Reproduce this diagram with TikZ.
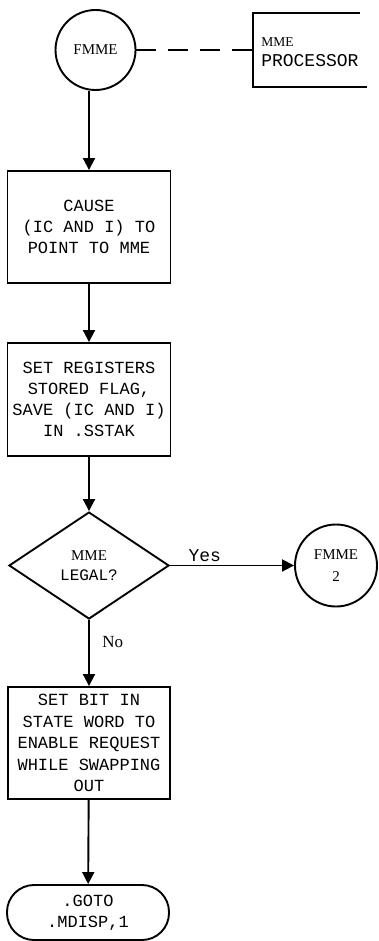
\documentclass[tikz,border=0pt]{standalone}
\usepackage{fontspec}
\setmainfont{Liberation Serif}
\setmonofont{Liberation Mono}
\newfontfamily\circfont[Scale=1.5]{Liberation Serif}
\newfontfamily\notefont[Scale=1.35]{Liberation Serif}
\newfontfamily\nofont[Scale=1.7]{Liberation Serif}
\usetikzlibrary{arrows.meta,shapes.geometric}

\begin{document}
\begin{tikzpicture}[x=1pt,y=-1pt,line width=1.9pt,
    box/.style={draw, rectangle, minimum width=163pt, minimum height=112pt, inner sep=0pt,
      align=center, font=\ttfamily\fontsize{17}{21}\selectfont},
    conn/.style={draw, circle, inner sep=0pt, align=center, font=\circfont\fontsize{10}{22}\selectfont},
    flow/.style={-{Triangle[width=12pt,length=12pt]}}]
    \useasboundingbox (0,0) rectangle (379,941);

    % Entry point and note
    \node[conn, minimum size=80pt] (fmme) at (95.5,50) {FMME};
    \draw (360,13) -- (253,13) -- (253,87) -- (367,87);
    \node[anchor=west, align=left, font=\ttfamily\fontsize{18}{20}\selectfont] (proc) at (257,52.5)
        {\notefont\fontsize{10}{20}\selectfont MME\\\ttfamily\fontsize{18}{20}\selectfont PROCESSOR};
    \coordinate (procedge) at (253,50);
    \draw[dash pattern=on 20pt off 12pt] (fmme.east) -- (procedge);

    % Process boxes
    \node[box] (cause) at (89,227) {CAUSE\\(IC AND I) TO\\POINT TO MME};
    \node[box, minimum height=113pt] (save) at (89,399.5) {SET REGISTERS\\STORED FLAG,\\SAVE (IC AND I)\\IN .SSTAK};

    % Decision
    \node[draw, diamond, aspect=1.5, minimum width=160pt, minimum height=107pt, inner sep=0pt,
        align=center, font=\ttfamily\fontsize{16}{20}\selectfont] (legal) at (89,565.5)
        {\circfont\fontsize{10}{20}\selectfont MME\\\ttfamily\fontsize{16}{20}\selectfont LEGAL?};
    \node[conn, minimum size=82pt] (fmmetwo) at (336,565.5) {FMME\\2};

    \node[box, minimum width=162pt, font=\ttfamily\fontsize{17}{21.5}\selectfont] (setbit) at (89,743)
        {SET BIT IN\\STATE WORD TO\\ENABLE REQUEST\\WHILE SWAPPING\\OUT};

    % Exit
    \node[draw, rectangle, rounded corners=27pt, minimum width=162pt, minimum height=55pt, inner sep=0pt,
        align=center, font=\ttfamily\fontsize{17}{21}\selectfont] (goto) at (88,912.5) {.GOTO\\.MDISP,1};

    % Flow lines
    \draw[flow] (cause.north |- fmme.south) -- (cause.north);
    \draw[flow] (cause) -- (save);
    \draw[flow] (save) -- (legal);
    \draw[flow] (legal) -- node[above, pos=0.28, font=\ttfamily\fontsize{18}{20}\selectfont] {Yes} (fmmetwo);
    \draw[flow] (legal) -- node[right, pos=0.34, xshift=9pt, font=\nofont] {No} (setbit);
    \draw[flow] (setbit) -- (goto);
\end{tikzpicture}
\end{document}
